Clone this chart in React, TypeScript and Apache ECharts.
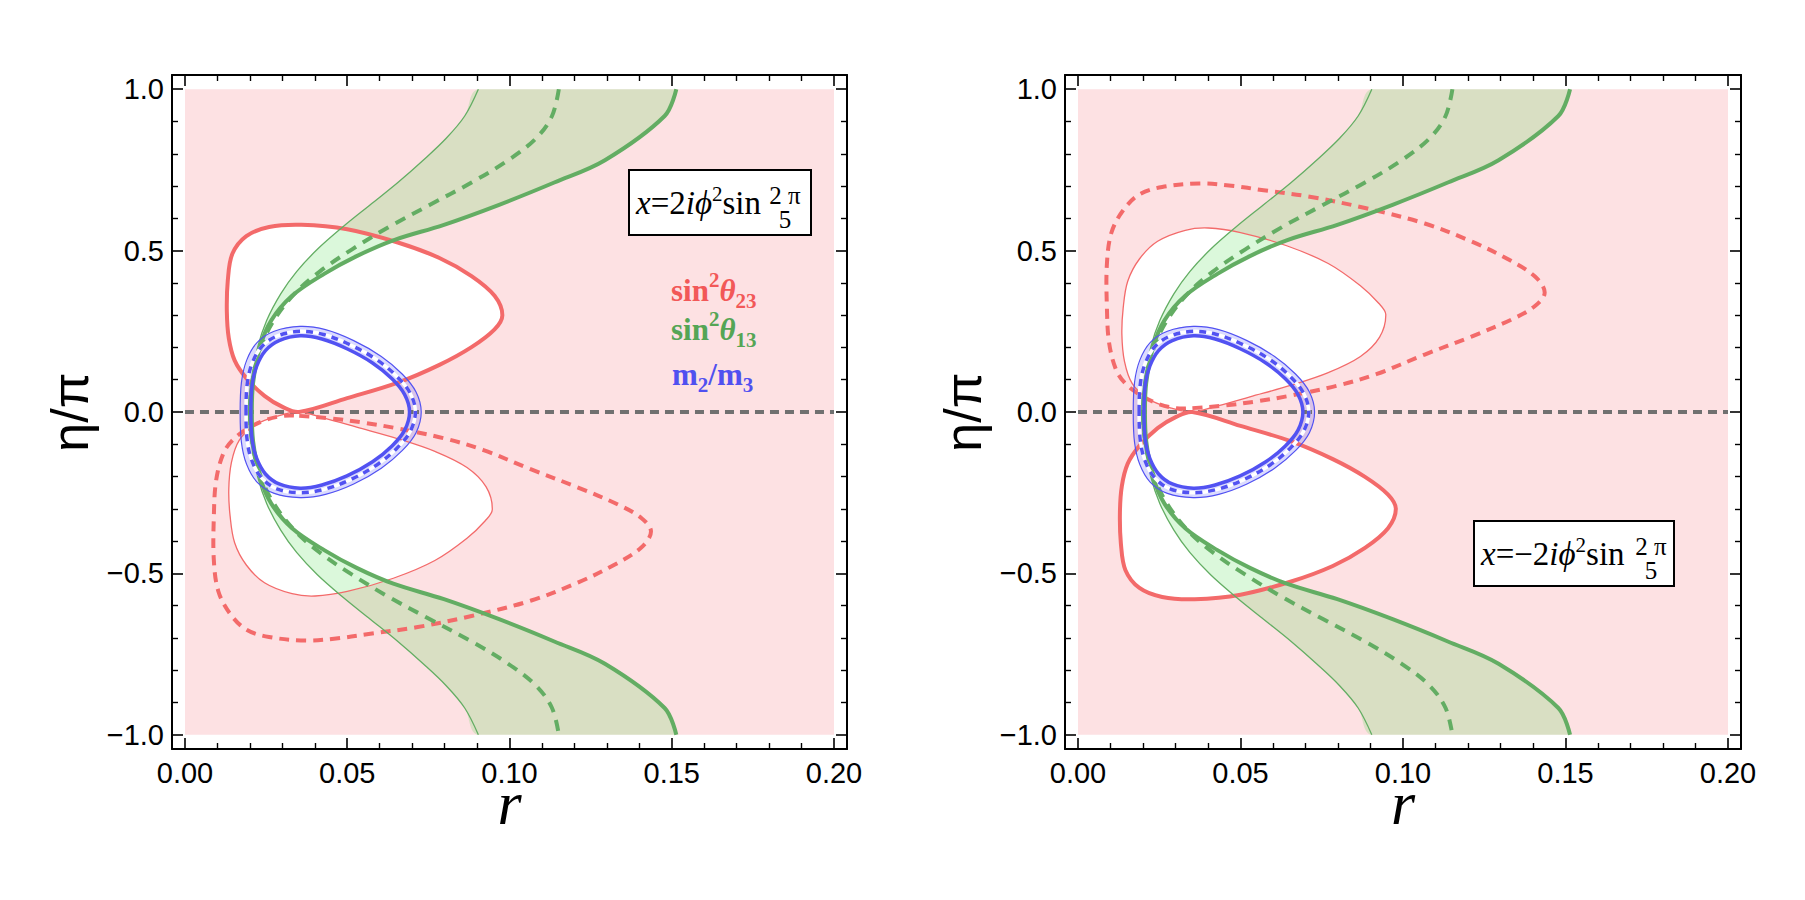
import React, { useEffect, useRef } from 'react';
import * as echarts from 'echarts';

// ---------- axes ----------
const X_MAJOR = [0, 0.05, 0.1, 0.15, 0.2];
const X_MINOR = [0.01, 0.02, 0.03, 0.04, 0.06, 0.07, 0.08, 0.09, 0.11, 0.12, 0.13, 0.14, 0.16, 0.17, 0.18, 0.19];
const Y_MAJOR = [-1, -0.5, 0, 0.5, 1];
const Y_MINOR = [-0.9, -0.8, -0.7, -0.6, -0.4, -0.3, -0.2, -0.1, 0.1, 0.2, 0.3, 0.4, 0.6, 0.7, 0.8, 0.9];
const X_RANGE = [-0.004, 0.204];
const Y_RANGE = [-1.044, 1.044];
const PLOT_X = [0, 0.2];
const PLOT_Y = [-1, 1];

// ---------- data: [r, eta/pi] ----------
// sin^2 theta_13 band (same in both panels)
const GREEN_THIN = [
  [0.0904, 1.0], [0.0862, 0.917], [0.0805, 0.848], [0.0734, 0.78], [0.0656, 0.711], [0.0571, 0.642],
  [0.0486, 0.573], [0.0408, 0.504], [0.0344, 0.435], [0.0295, 0.366], [0.0252, 0.284], [0.0224, 0.201],
  [0.0203, 0.091], [0.0196, 0.0], [0.0203, -0.091], [0.0224, -0.201], [0.0252, -0.284], [0.0295, -0.366],
  [0.0344, -0.435], [0.0408, -0.504], [0.0486, -0.573], [0.0571, -0.642], [0.0656, -0.711], [0.0734, -0.78],
  [0.0805, -0.848], [0.0862, -0.917], [0.0904, -1.0],
];
const GREEN_MID = [
  [0.1152, 1.0], [0.1131, 0.917], [0.1082, 0.848], [0.0996, 0.78], [0.0883, 0.711], [0.0755, 0.642],
  [0.0628, 0.573], [0.0515, 0.504], [0.0415, 0.435], [0.0337, 0.366], [0.0274, 0.284], [0.0234, 0.201],
  [0.0207, 0.091], [0.0201, 0.0], [0.0207, -0.091], [0.0234, -0.201], [0.0274, -0.284], [0.0337, -0.366],
  [0.0415, -0.435], [0.0515, -0.504], [0.0628, -0.573], [0.0755, -0.642], [0.0883, -0.711], [0.0996, -0.78],
  [0.1082, -0.848], [0.1131, -0.917], [0.1152, -1.0],
];
const GREEN_THICK = [
  [0.1514, 1.0], [0.1478, 0.917], [0.1294, 0.78], [0.1138, 0.711], [0.0968, 0.642], [0.0798, 0.58],
  [0.0642, 0.532], [0.0529, 0.483], [0.0429, 0.428], [0.033, 0.36], [0.0266, 0.284], [0.0231, 0.201],
  [0.021, 0.091], [0.0206, 0.0], [0.021, -0.091], [0.0231, -0.201], [0.0266, -0.284], [0.033, -0.36],
  [0.0429, -0.428], [0.0529, -0.483], [0.0642, -0.532], [0.0798, -0.58], [0.0968, -0.642], [0.1138, -0.711],
  [0.1294, -0.78], [0.1478, -0.917], [0.1514, -1.0],
];

// m2/m3 band (same in both panels)
const BLUE_OUTER = [
  [0.017, 0.0], [0.0174, 0.092], [0.019, 0.16], [0.0222, 0.215], [0.0275, 0.25], [0.0355, 0.265],
  [0.0433, 0.255], [0.052, 0.221], [0.0605, 0.172], [0.067, 0.117], [0.0712, 0.062], [0.0728, 0.0],
  [0.0712, -0.064], [0.067, -0.119], [0.0605, -0.174], [0.052, -0.223], [0.0433, -0.255], [0.0355, -0.265],
  [0.0275, -0.252], [0.0222, -0.217], [0.019, -0.162], [0.0174, -0.094],
];
const BLUE_MID = [
  [0.0188, 0.0], [0.0192, 0.089], [0.0207, 0.151], [0.0236, 0.202], [0.0283, 0.235], [0.0355, 0.25],
  [0.0427, 0.24], [0.0509, 0.208], [0.0591, 0.162], [0.0653, 0.11], [0.0694, 0.058], [0.071, 0.0],
  [0.0694, -0.06], [0.0653, -0.112], [0.0591, -0.164], [0.0509, -0.21], [0.0427, -0.24], [0.0355, -0.25],
  [0.0283, -0.238], [0.0236, -0.204], [0.0207, -0.153], [0.0192, -0.091],
];
const BLUE_INNER = [
  [0.0203, 0.0], [0.0207, 0.085], [0.0221, 0.142], [0.0248, 0.19], [0.029, 0.221], [0.0355, 0.236],
  [0.0422, 0.226], [0.0499, 0.196], [0.0578, 0.152], [0.0638, 0.103], [0.0677, 0.054], [0.0692, 0.0],
  [0.0677, -0.056], [0.0638, -0.105], [0.0578, -0.154], [0.0499, -0.198], [0.0422, -0.226], [0.0355, -0.236],
  [0.029, -0.223], [0.0248, -0.192], [0.0221, -0.144], [0.0207, -0.087],
];

// sin^2 theta_23, left panel
const L_RED_THICK = [
  [0.0352, 0.0], [0.05, 0.043], [0.0656, 0.091], [0.0784, 0.146], [0.0883, 0.201], [0.0954, 0.256],
  [0.0978, 0.3], [0.0954, 0.36], [0.0883, 0.421], [0.0784, 0.477], [0.0656, 0.525], [0.05, 0.566],
  [0.0359, 0.58], [0.0259, 0.573], [0.0189, 0.545], [0.0146, 0.49], [0.0132, 0.408], [0.0129, 0.311],
  [0.0135, 0.229], [0.0153, 0.16], [0.0189, 0.105], [0.0245, 0.05], [0.0302, 0.015],
];
const L_RED_THIN = [
  [0.0352, 0.0], [0.0429, -0.019], [0.0529, -0.047], [0.0656, -0.083], [0.077, -0.122], [0.0869, -0.172],
  [0.0928, -0.232], [0.0947, -0.302], [0.0926, -0.336], [0.0869, -0.391], [0.077, -0.46], [0.0642, -0.515],
  [0.05, -0.556], [0.0401, -0.57], [0.033, -0.563], [0.0245, -0.529], [0.0189, -0.474], [0.0153, -0.405],
  [0.0139, -0.322], [0.0135, -0.24], [0.0143, -0.157], [0.0167, -0.088], [0.0217, -0.04], [0.0288, -0.012],
];
const L_RED_DASHED = [
  [0.0352, -0.012], [0.045, -0.02], [0.055, -0.033], [0.065, -0.05], [0.08, -0.082], [0.092, -0.118],
  [0.1067, -0.178], [0.1209, -0.233], [0.1337, -0.288], [0.1407, -0.329], [0.1436, -0.37], [0.1407, -0.419],
  [0.1322, -0.474], [0.1209, -0.529], [0.1067, -0.584], [0.0883, -0.632], [0.0713, -0.667], [0.0571, -0.687],
  [0.0472, -0.701], [0.0373, -0.708], [0.0259, -0.697], [0.0189, -0.674], [0.0139, -0.625], [0.0103, -0.556],
  [0.0089, -0.46], [0.0089, -0.322], [0.0096, -0.212], [0.0118, -0.129], [0.0146, -0.088], [0.0189, -0.054],
  [0.0245, -0.026], [0.0302, -0.012],
];

// sin^2 theta_23, right panel
const R_RED_THICK = [
  [0.0352, 0.0], [0.05, -0.043], [0.0656, -0.091], [0.0784, -0.146], [0.0883, -0.201], [0.0954, -0.256],
  [0.0978, -0.3], [0.0954, -0.36], [0.0883, -0.421], [0.0784, -0.477], [0.0656, -0.525], [0.05, -0.566],
  [0.0359, -0.58], [0.0259, -0.573], [0.0189, -0.545], [0.0146, -0.49], [0.0132, -0.408], [0.0129, -0.311],
  [0.0135, -0.229], [0.0153, -0.16], [0.0189, -0.105], [0.0245, -0.05], [0.0302, -0.015],
];
const R_RED_THIN = [
  [0.0352, 0.0], [0.0429, 0.019], [0.0529, 0.047], [0.0656, 0.083], [0.077, 0.122], [0.0869, 0.172],
  [0.0928, 0.232], [0.0947, 0.302], [0.0926, 0.336], [0.0869, 0.391], [0.077, 0.46], [0.0642, 0.515],
  [0.05, 0.556], [0.0401, 0.57], [0.033, 0.563], [0.0245, 0.529], [0.0189, 0.474], [0.0153, 0.405],
  [0.0139, 0.322], [0.0135, 0.24], [0.0143, 0.157], [0.0167, 0.088], [0.0217, 0.04], [0.0288, 0.012],
];
const R_RED_DASHED = [
  [0.0352, 0.012], [0.045, 0.02], [0.055, 0.033], [0.065, 0.05], [0.08, 0.082], [0.092, 0.118],
  [0.1067, 0.178], [0.1209, 0.233], [0.1337, 0.288], [0.1407, 0.329], [0.1436, 0.37], [0.1407, 0.419],
  [0.1322, 0.474], [0.1209, 0.529], [0.1067, 0.584], [0.0883, 0.632], [0.0713, 0.667], [0.0571, 0.687],
  [0.0472, 0.701], [0.0373, 0.708], [0.0259, 0.697], [0.0189, 0.674], [0.0139, 0.625], [0.0103, 0.556],
  [0.0089, 0.46], [0.0089, 0.322], [0.0096, 0.212], [0.0118, 0.129], [0.0146, 0.088], [0.0189, 0.054],
  [0.0245, 0.026], [0.0302, 0.012],
];

const ZERO_LINE = [[0, 0], [0.2, 0]];

// ---------- style ----------
const PINK = '#fde1e3';
const RED = '#f36a6a';
const GREEN = '#63ad63';
const BLUE = '#5252f2';
const GREEN_FILL = 'rgba(40,215,40,0.17)';
const BLUE_FILL = 'rgba(90,90,250,0.22)';
const GRAY = '#707070';
const SM = 0.35;
const BBOX_ONLY = [[Infinity, Infinity], [-Infinity, -Infinity]];

const GRIDS = [
  { left: 172, top: 75, width: 675, height: 674 },
  { left: 1065, top: 75, width: 676, height: 674 },
];

function fmtX(v: number) {
  return v.toFixed(2);
}
function fmtY(v: number) {
  return (v < -1e-9 ? '\u2212' : '') + Math.abs(v).toFixed(1);
}

function xAxes(g: number) {
  const base = { type: 'value', gridIndex: g, min: X_RANGE[0], max: X_RANGE[1], splitLine: { show: false } };
  const line = { show: true, onZero: false, lineStyle: { color: '#000', width: 2 } };
  const noLine = { show: false, onZero: false };
  const majT = { show: true, inside: true, length: 11, customValues: X_MAJOR, lineStyle: { color: '#000', width: 1.6 } };
  const minT = { show: true, inside: true, length: 6, customValues: X_MINOR, lineStyle: { color: '#000', width: 1.4 } };
  return [
    {
      ...base, position: 'bottom', axisLine: line, axisTick: majT,
      axisLabel: { show: true, customValues: X_MAJOR, formatter: fmtX, fontSize: 29, color: '#000', fontFamily: 'Liberation Sans', margin: 9 },
      name: 'r', nameLocation: 'middle', nameGap: 54, nameMoveOverlap: false,
      nameTextStyle: { fontFamily: 'Liberation Serif', fontStyle: 'italic', fontSize: 62, lineHeight: 22, color: '#000', verticalAlign: 'middle', align: 'center' },
    },
    { ...base, position: 'bottom', axisLine: noLine, axisTick: minT, axisLabel: { show: false } },
    { ...base, position: 'top', axisLine: line, axisTick: majT, axisLabel: { show: false } },
    { ...base, position: 'top', axisLine: noLine, axisTick: minT, axisLabel: { show: false } },
  ];
}

function yAxes(g: number) {
  const base = { type: 'value', gridIndex: g, min: Y_RANGE[0], max: Y_RANGE[1], splitLine: { show: false } };
  const line = { show: true, onZero: false, lineStyle: { color: '#000', width: 2 } };
  const noLine = { show: false, onZero: false };
  const majT = { show: true, inside: true, length: 11, customValues: Y_MAJOR, lineStyle: { color: '#000', width: 1.6 } };
  const minT = { show: true, inside: true, length: 6, customValues: Y_MINOR, lineStyle: { color: '#000', width: 1.4 } };
  return [
    {
      ...base, position: 'left', axisLine: line, axisTick: majT,
      axisLabel: { show: true, customValues: Y_MAJOR, formatter: fmtY, fontSize: 29, color: '#000', fontFamily: 'Liberation Sans', margin: 8 },
      name: '\u03b7/\u03c0', nameLocation: 'middle', nameGap: 102, nameRotate: 90, nameMoveOverlap: false,
      nameTextStyle: { fontFamily: 'Liberation Sans', fontSize: 52, color: '#000', verticalAlign: 'middle', align: 'center' },
    },
    { ...base, position: 'left', axisLine: noLine, axisTick: minT, axisLabel: { show: false } },
    { ...base, position: 'right', axisLine: line, axisTick: majT, axisLabel: { show: false } },
    { ...base, position: 'right', axisLine: noLine, axisTick: minT, axisLabel: { show: false } },
  ];
}

function shape(g: number, pts: number[][], kind: string, style: any, z: number, smooth = SM, constrain = false) {
  return {
    type: 'custom',
    coordinateSystem: 'cartesian2d',
    xAxisIndex: g * 4,
    yAxisIndex: g * 4,
    z,
    silent: true,
    data: [[0, 0]],
    renderItem: (_p: any, api: any) => {
      const sh: any = { points: pts.map((p) => api.coord(p)), smooth };
      if (constrain) sh.smoothConstraint = BBOX_ONLY;
      return { type: kind, shape: sh, style };
    },
  };
}

function panelSeries(g: number, redThick: number[][], redThin: number[][], redDashed: number[][]) {
  const bg = [[PLOT_X[0], PLOT_Y[0]], [PLOT_X[1], PLOT_Y[0]], [PLOT_X[1], PLOT_Y[1]], [PLOT_X[0], PLOT_Y[1]]];
  const band = GREEN_THIN.concat(GREEN_THICK.slice().reverse());
  const none = 'none';
  return [
    shape(g, bg, 'polygon', { fill: PINK, stroke: none }, 1, 0),
    shape(g, redThick, 'polygon', { fill: '#fff', stroke: none }, 2),
    shape(g, redThin, 'polygon', { fill: '#fff', stroke: none }, 2),
    shape(g, band, 'polygon', { fill: GREEN_FILL, stroke: none }, 3, SM, true),
    shape(g, BLUE_MID, 'polygon', { fill: none, stroke: BLUE_FILL, lineWidth: 11 }, 3),
    shape(g, ZERO_LINE, 'polyline', { fill: none, stroke: GRAY, lineWidth: 4, lineDash: [9, 6] }, 4, 0),
    shape(g, redThin, 'polygon', { fill: none, stroke: RED, lineWidth: 1.3 }, 5),
    shape(g, redDashed, 'polygon', { fill: none, stroke: RED, lineWidth: 4, lineDash: [10, 7] }, 5),
    shape(g, redThick, 'polygon', { fill: none, stroke: RED, lineWidth: 4 }, 5),
    shape(g, GREEN_THIN, 'polyline', { fill: none, stroke: GREEN, lineWidth: 1.3 }, 6),
    shape(g, GREEN_MID, 'polyline', { fill: none, stroke: GREEN, lineWidth: 4, lineDash: [11, 8] }, 6),
    shape(g, GREEN_THICK, 'polyline', { fill: none, stroke: GREEN, lineWidth: 4 }, 6),
    shape(g, BLUE_OUTER, 'polygon', { fill: none, stroke: BLUE, lineWidth: 1.2 }, 7),
    shape(g, BLUE_MID, 'polygon', { fill: none, stroke: '#ffffff', lineWidth: 3.5 }, 7),
    shape(g, BLUE_MID, 'polygon', { fill: none, stroke: BLUE, lineWidth: 3.5, lineDash: [7, 6] }, 7),
    shape(g, BLUE_INNER, 'polygon', { fill: none, stroke: BLUE, lineWidth: 3.5 }, 7),
  ];
}

function legendRich(color: string) {
  const f = 'Liberation Serif';
  return {
    n: { fontFamily: f, fontWeight: 'bold', fontSize: 31, lineHeight: 42, fill: color, color },
    t: { fontFamily: f, fontWeight: 'bold', fontStyle: 'italic', fontSize: 31, lineHeight: 42, fill: color, color },
    sup: { fontFamily: f, fontWeight: 'bold', fontSize: 21, lineHeight: 22, verticalAlign: 'top', fill: color, color },
    sub: { fontFamily: f, fontWeight: 'bold', fontSize: 21, lineHeight: 22, verticalAlign: 'bottom', fill: color, color },
  };
}

function legendText(x: number, y: number, text: string, color: string) {
  return {
    type: 'text', x, y, z: 100,
    style: { text, rich: legendRich(color), fill: color, align: 'left', verticalAlign: 'middle', textAlign: 'left', textVerticalAlign: 'middle' },
  };
}

function mathRich() {
  const f = 'Liberation Serif';
  return {
    r: { fontFamily: f, fontSize: 33, lineHeight: 40, fill: '#000' },
    i: { fontFamily: f, fontStyle: 'italic', fontSize: 33, lineHeight: 40, fill: '#000' },
    sup: { fontFamily: f, fontSize: 21, lineHeight: 22, verticalAlign: 'top', fill: '#000' },
  };
}

function formulaBox(bx: number, by: number, bw: number, bh: number, tx: number, ty: number, sign: string, fx: number) {
  return [
    { type: 'rect', z: 100, shape: { x: bx, y: by, width: bw, height: bh }, style: { fill: '#fff', stroke: '#000', lineWidth: 2 } },
    {
      type: 'text', z: 101, x: tx, y: ty,
      style: { text: '{i|x}{r|=' + sign + '2}{i|i\u03d5}{sup|2}{r|sin}', rich: mathRich(), fill: '#000', align: 'left', verticalAlign: 'middle', textAlign: 'left', textVerticalAlign: 'middle' },
    },
    {
      type: 'text', z: 101, x: fx, y: ty - 8,
      style: { text: '2 \u03c0', fontFamily: 'Liberation Serif', fontSize: 25, fill: '#000', align: 'center', verticalAlign: 'middle', textAlign: 'center', textVerticalAlign: 'middle' },
    },
    {
      type: 'text', z: 101, x: fx, y: ty + 16,
      style: { text: '5', fontFamily: 'Liberation Serif', fontSize: 25, fill: '#000', align: 'center', verticalAlign: 'middle', textAlign: 'center', textVerticalAlign: 'middle' },
    },
  ];
}

function buildOption() {
  return {
    animation: false,
    backgroundColor: '#fff',
    grid: GRIDS.map((g) => ({ ...g, containLabel: false, show: false })),
    xAxis: [...xAxes(0), ...xAxes(1)],
    yAxis: [...yAxes(0), ...yAxes(1)],
    series: [
      ...panelSeries(0, L_RED_THICK, L_RED_THIN, L_RED_DASHED),
      ...panelSeries(1, R_RED_THICK, R_RED_THIN, R_RED_DASHED),
    ],
    graphic: [
      ...formulaBox(629, 170, 182, 65, 636, 203, '', 785),
      ...formulaBox(1474, 521, 200, 65, 1481, 554, '\u2212', 1651),
      legendText(671, 290, '{n|sin}{sup|2}{t|\u03b8}{sub|23}', '#f25858'),
      legendText(671, 329, '{n|sin}{sup|2}{t|\u03b8}{sub|13}', '#55a555'),
      legendText(672, 374, '{n|m}{sub|2}{n|/m}{sub|3}', '#5050f0'),
    ],
  };
}

export default function App() {
  const ref = useRef<HTMLDivElement>(null);
  useEffect(() => {
    const chart = echarts.init(ref.current as HTMLDivElement, null, { renderer: 'svg' });
    chart.setOption(buildOption() as any);
    return () => chart.dispose();
  }, []);
  return (
    <div
      ref={ref}
      style={{ position: 'fixed', left: 0, top: 0, width: 1805, height: 900, background: '#fff' }}
    />
  );
}
